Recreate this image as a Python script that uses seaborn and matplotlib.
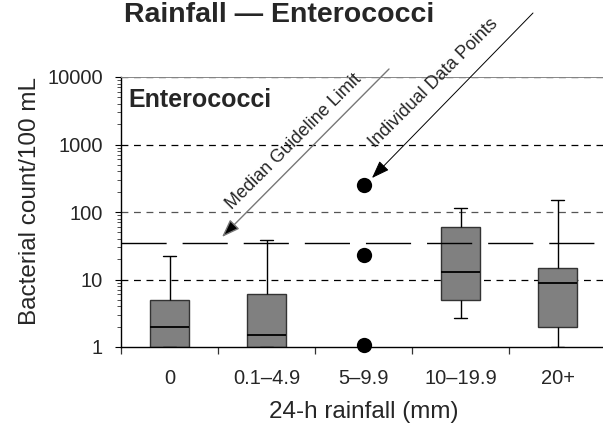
import numpy as np
import pandas as pd
import matplotlib
matplotlib.use('Agg')
import matplotlib.pyplot as plt
from matplotlib.ticker import FixedLocator, NullFormatter
import seaborn as sns

# rainfall classes on the x axis
categories = ['0', '0.1–4.9', '5–9.9', '10–19.9', '20+']

# five-number summaries (min, q1, median, q3, max)
box_0 = [1, 1, 2, 5, 22]
box_01_49 = [1, 1, 1.5, 6, 38]
box_10_199 = [2.7, 5, 13, 60, 115]
box_20 = [1, 2, 9, 15, 150]

# the 5-9.9 class only had three samples, shown as dots
points_5_99 = [250, 23, 1.07]

guideline = 35  # median guideline limit
y_ticks = [1, 10, 100, 1000, 10000]

box_df = pd.DataFrame({
    'rain': ['0'] * len(box_0) + ['0.1–4.9'] * len(box_01_49)
            + ['10–19.9'] * len(box_10_199) + ['20+'] * len(box_20),
    'count': box_0 + box_01_49 + box_10_199 + box_20,
})
pts_df = pd.DataFrame({'rain': ['5–9.9'] * len(points_5_99), 'count': points_5_99})

sns.set_style('white')
plt.rcParams['font.family'] = ['Liberation Sans', 'DejaVu Sans']

W, H = 603, 428
fig = plt.figure(figsize=(W / 100, H / 100), dpi=100)
ax = fig.add_axes([121 / W, (H - 347) / H, 485 / W, 270 / H])
ax.set_yscale('log')

sns.boxplot(data=box_df, x='rain', y='count', order=categories, ax=ax,
            width=0.4, whis=(0, 100), showfliers=False, capwidths=0.135,
            boxprops=dict(facecolor='#808080', edgecolor='#333333', linewidth=1.0),
            medianprops=dict(color='black', linewidth=1.3),
            whiskerprops=dict(color='black', linewidth=1.0),
            capprops=dict(color='black', linewidth=1.0))
for p in ax.patches:
    p.set_zorder(2)

sns.stripplot(data=pts_df, x='rain', y='count', order=categories, ax=ax,
              jitter=False, color='black', size=11, zorder=5)
for c in ax.collections:
    c.set_clip_on(False)

# dashed grid + the long-dash guideline on top of the boxes
for yv in [10, 100, 1000, 10000]:
    ax.axhline(yv, color='#555555' if yv == 100 else 'black', lw=0.9,
               dashes=(5.5, 4.5), zorder=1)
ax.axhline(guideline, color='black', lw=1.0, dashes=(32.5, 11.5), zorder=4)

ax.set_xlim(-0.5, 4.5)
ax.set_ylim(1, 10000)

ax.yaxis.set_major_locator(FixedLocator(y_ticks))
ax.set_yticklabels([str(t) for t in y_ticks])
minors = [m * 10 ** d for d in range(4) for m in range(2, 10)]
ax.yaxis.set_minor_locator(FixedLocator(minors))
ax.yaxis.set_minor_formatter(NullFormatter())
ax.tick_params(axis='y', which='major', left=True, direction='out', length=4,
               width=0.8, labelsize=14.5, pad=9, color='black')
ax.tick_params(axis='y', which='minor', left=True, direction='out', length=3,
               width=0.6, color='#333333')

# category boundaries get ticks, labels sit between them
ax.set_xticks(np.arange(-0.5, 4.6, 1.0))
ax.set_xticklabels([])
ax.set_xticks(np.arange(len(categories)), minor=True)
ax.set_xticklabels(categories, minor=True)
ax.tick_params(axis='x', which='major', bottom=True, direction='out', length=5,
               width=0.9, color='#333333')
ax.tick_params(axis='x', which='minor', bottom=False, labelsize=14.5, pad=14)

for s in ['left', 'bottom']:
    ax.spines[s].set_color('black')
    ax.spines[s].set_linewidth(1.0)
ax.spines['right'].set_visible(False)
ax.spines['top'].set_color('#888888')
ax.spines['top'].set_linewidth(0.7)

ax.set_xlabel('24-h rainfall (mm)', fontsize=17.5, labelpad=9)
ax.set_ylabel('Bacterial count/100 mL', fontsize=17.5)
ax.yaxis.set_label_coords(-0.165, 0.54)

fig.text(279 / W, 1 - 22 / H, 'Rainfall — Enterococci', ha='center', va='baseline',
         fontsize=20.5, fontweight='bold')
fig.text(128 / W, 1 - 107 / H, 'Enterococci', ha='left', va='baseline',
         fontsize=18, fontweight='bold')

# callout arrows
ax.annotate('', xy=(222 / W, 1 - 237 / H), xytext=(389 / W, 1 - 69 / H),
            xycoords='figure fraction', textcoords='figure fraction',
            arrowprops=dict(arrowstyle='-|>,head_length=1.1,head_width=0.4',
                            mutation_scale=10, shrinkA=0, shrinkB=0,
                            edgecolor='#777777', facecolor='black', lw=1.0))
ax.annotate('', xy=(372 / W, 1 - 178 / H), xytext=(533 / W, 1 - 13 / H),
            xycoords='figure fraction', textcoords='figure fraction',
            arrowprops=dict(arrowstyle='-|>,head_length=1.1,head_width=0.4',
                            mutation_scale=10, shrinkA=0, shrinkB=0,
                            edgecolor='black', facecolor='black', lw=0.7))
fig.text(294 / W, 1 - 142 / H, 'Median Guideline Limit', rotation=45,
         rotation_mode='anchor', ha='center', va='center', fontsize=13)
fig.text(434 / W, 1 - 83 / H, 'Individual Data Points', rotation=45,
         rotation_mode='anchor', ha='center', va='center', fontsize=13)

fig.savefig('out.png', dpi=100)
